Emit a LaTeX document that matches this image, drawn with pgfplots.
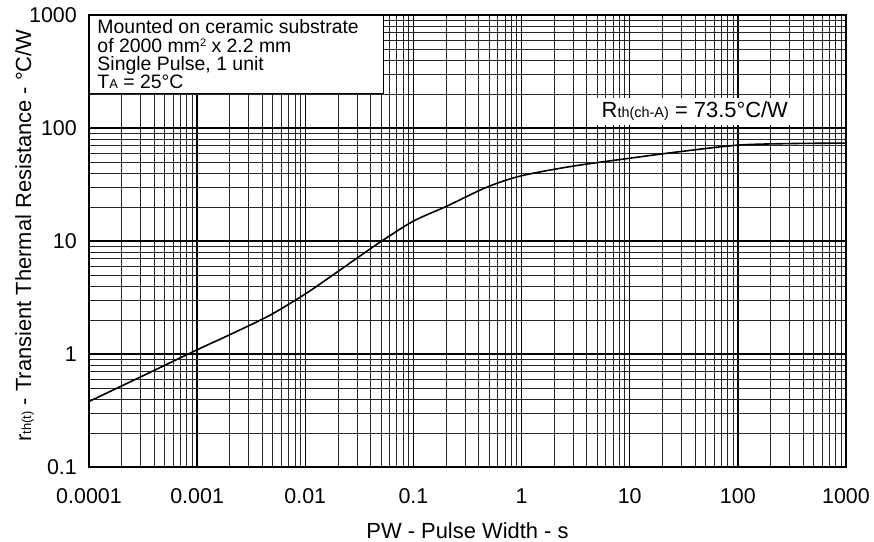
\documentclass[border=0pt]{standalone}
\usepackage{fontspec}
\setmainfont{Liberation Sans}
\usepackage{pgfplots}
\pgfplotsset{compat=1.18}

\newcommand{\sub}[1]{{\fontsize{13}{13}\selectfont #1}}

\begin{document}
\begin{tikzpicture}
\begin{axis}[
    scale only axis,
    width=757bp, height=452bp,
    xmode=log, ymode=log,
    xmin=1e-4, xmax=1000,
    ymin=0.1, ymax=1000,
    xtick={1e-4,1e-3,1e-2,1e-1,1,10,100,1000},
    xticklabels={0.0001,0.001,0.01,0.1,1,10,100,1000},
    ytick={0.1,1,10,100,1000},
    yticklabels={0.1,1,10,100,1000},
    grid=both,
    major grid style={black, line width=1.5bp},
    minor grid style={black!85, line width=0.6bp},
    major tick length=0pt, minor tick length=0pt,
    axis line style={black, line width=1.6bp},
    tick label style={font=\fontsize{21.5}{21.5}\selectfont},
    xticklabel style={anchor=base, yshift=-36bp},
    yticklabel style={anchor=east, inner xsep=0pt, xshift=-12bp},
    label style={font=\fontsize{22}{22}\selectfont},
    xlabel={PW - Pulse Width - s},
    xlabel style={at={(axis description cs:0.5,0)}, anchor=base, yshift=-71bp},
    ylabel={r\sub{th(t)} - Transient Thermal Resistance - \textdegree C/W},
    ylabel style={at={(axis description cs:-0.0766,0.512)}, anchor=base},
]
\addplot[black, line width=1.6bp, smooth] coordinates {
    (1e-4,0.38)
    (3e-4,0.627)
    (1e-3,1.09)
    (2e-3,1.48)
    (4.7e-3,2.2)
    (1e-2,3.4)
    (1.8e-2,5.0)
    (3.1e-2,7.2)
    (5.1e-2,10)
    (0.1,15)
    (0.205,20.4)
    (0.48,30)
    (1,37.8)
    (3,46)
    (10,54)
    (30,62)
    (100,70.5)
    (300,72.8)
    (1000,73.5)
};
\node[fill=white, draw=black, line width=1bp, anchor=north west, align=left,
      inner xsep=0pt, inner ysep=0pt, minimum width=294bp, minimum height=78bp,
      font=\fontsize{19.5}{18.4}\selectfont]
    at (rel axis cs:0,1)
    {\hspace*{8bp}\parbox[c][78bp][c]{286bp}{\raggedright
     Mounted on ceramic substrate\\
     of 2000 mm\raisebox{0.3em}{\fontsize{11}{11}\selectfont 2} x 2.2 mm\\
     Single Pulse, 1 unit\\
     T\sub{A} = 25\textdegree C}};
\node[fill=white, inner xsep=7bp, inner ysep=4bp, anchor=center,
      font=\fontsize{22}{22}\selectfont]
    at (axis cs:40,140) {R{\fontsize{14.5}{14.5}\selectfont th(ch-A)} = 73.5\textdegree C/W};
\end{axis}
\pgfresetboundingbox
\path (-89bp,-75bp) rectangle (785bp,467bp);
\end{tikzpicture}
\end{document}
